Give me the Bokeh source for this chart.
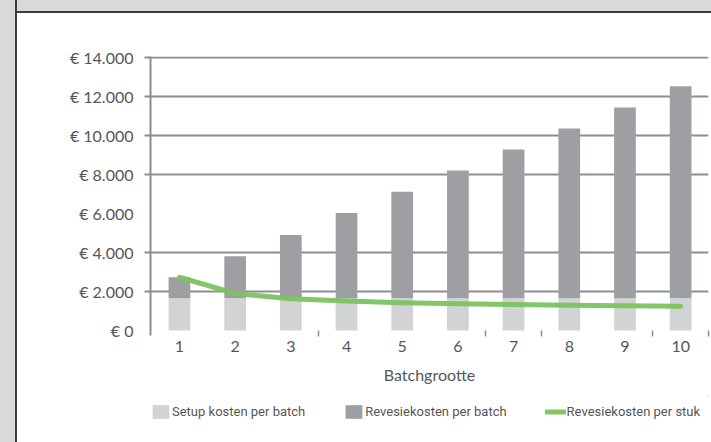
from bokeh.plotting import figure
from bokeh.models import Range1d, FixedTicker, Legend, LegendItem, ColumnDataSource
from bokeh.layouts import column
from bokeh.embed import file_html
from bokeh.resources import INLINE

# ---- data ----
batch = [1, 2, 3, 4, 5, 6, 7, 8, 9, 10]
setup_per_batch = [1650, 1650, 1650, 1650, 1650, 1650, 1650, 1650, 1650, 1650]
revisie_per_batch = [1080, 2160, 3250, 4380, 5460, 6550, 7630, 8710, 9790, 10870]
revisie_per_stuk = [2730, 1900, 1630, 1510, 1420, 1370, 1330, 1300, 1270, 1250]
y_ticks = [0, 2000, 4000, 6000, 8000, 10000, 12000, 14000]
y_tick_labels = ["€ 0", "€ 2.000", "€ 4.000", "€ 6.000", "€ 8.000", "€ 10.000", "€ 12.000", "€ 14.000"]
y_grid = [2000, 4000, 8000, 10000, 12000, 14000]
x_minor = [3.5, 6.5, 7.5, 9.5, 10.5]
x_label = "Batchgrootte"
legend_labels = ["Setup kosten per batch", "Revesiekosten per batch", "Revesiekosten per stuk"]

LIGHT = "#d1d3d4"
DARK = "#9d9fa2"
GREEN = "#7cc35f"
GRID = "#8c8d8f"
TEXT = "#555658"
BG = "#d8d9da"
EDGE = "#3b3b3b"
FONT = "Lato"
LEG_FONT = "Roboto"

total = [s + r for s, r in zip(setup_per_batch, revisie_per_batch)]
src = ColumnDataSource(dict(x=batch, setup=setup_per_batch, total=total, stuk=revisie_per_stuk,
                            zero=[0] * len(batch)))

p = figure(width=694, height=382, output_backend="svg", toolbar_location=None,
           x_range=Range1d(0.48, 10.5), y_range=Range1d(-256, 14051),
           min_border_left=133, min_border_right=3, min_border_top=43, min_border_bottom=60)
p.margin = (13, 0, 0, 17)
p.outline_line_color = None
p.background_fill_color = "white"
p.border_fill_color = "white"

bar_kw = dict(width=0.39, line_color=None)
r_setup = p.vbar(x="x", bottom="zero", top="setup", source=src, fill_color=LIGHT, **bar_kw)
r_rev = p.vbar(x="x", bottom="setup", top="total", source=src, fill_color=DARK, **bar_kw)
line_kw = dict(line_color=GREEN, line_width=5, line_join="round", line_cap="round", line_alpha=0.95)
r_line = p.line(x="x", y="stuk", source=src, **line_kw)

# y axis
ya = p.yaxis[0]
ya.ticker = FixedTicker(ticks=y_ticks, minor_ticks=y_grid)
ya.major_label_overrides = {v: t for v, t in zip(y_ticks, y_tick_labels)}
ya.major_tick_line_color = None
ya.major_tick_out = 6
ya.major_tick_in = 0
ya.minor_tick_line_color = GRID
ya.minor_tick_line_width = 2
ya.minor_tick_out = 6
ya.minor_tick_in = 0
ya.major_label_standoff = 11
ya.axis_line_color = GRID
ya.axis_line_width = 2
ya.major_label_text_font = FONT
ya.major_label_text_font_size = "16px"
ya.major_label_text_color = TEXT

# x axis
xa = p.xaxis[0]
xa.ticker = FixedTicker(ticks=batch, minor_ticks=x_minor)
xa.axis_line_color = None
xa.major_tick_line_color = None
xa.major_tick_out = 0
xa.major_tick_in = 0
xa.minor_tick_line_color = GRID
xa.minor_tick_line_width = 1.5
xa.minor_tick_in = 5
xa.minor_tick_out = 1
xa.major_label_standoff = 4
xa.major_label_text_font = FONT
xa.major_label_text_font_size = "16px"
xa.major_label_text_color = TEXT
xa.axis_label = x_label
xa.axis_label_text_font = FONT
xa.axis_label_text_font_size = "16px"
xa.axis_label_text_font_style = "normal"
xa.axis_label_text_color = TEXT
xa.axis_label_standoff = 10

p.xgrid.grid_line_color = None
p.ygrid.ticker = FixedTicker(ticks=y_grid)
p.ygrid.grid_line_color = GRID
p.ygrid.grid_line_width = 2

# ---- legend strip (separate figure below the chart; its ranges keep the data out of view) ----
pl = figure(width=694, height=47, output_backend="svg", toolbar_location=None,
            x_axis_type=None, y_axis_type=None, x_range=Range1d(-2, -1), y_range=Range1d(-2, -1),
            min_border_left=133, min_border_right=3, min_border_top=0, min_border_bottom=0)
pl.margin = (0, 0, 0, 17)
pl.outline_line_color = None
pl.background_fill_color = "white"
pl.border_fill_color = "white"
pl.grid.visible = False
l_setup = pl.vbar(x="x", bottom="zero", top="setup", source=src, fill_color=LIGHT, **bar_kw)
l_rev = pl.vbar(x="x", bottom="setup", top="total", source=src, fill_color=DARK, **bar_kw)
l_line = pl.line(x="x", y="stuk", source=src, **line_kw)

legend = Legend(items=[
    LegendItem(label=legend_labels[0], renderers=[l_setup]),
    LegendItem(label=legend_labels[1], renderers=[l_rev]),
    LegendItem(label=legend_labels[2], renderers=[l_line]),
], orientation="horizontal", location=(0, 22))
legend.glyph_width = 21
legend.glyph_height = 17
legend.label_standoff = 1
legend.spacing = 38
legend.padding = 0
legend.margin = 0
legend.border_line_color = None
legend.background_fill_alpha = 0
legend.label_text_font = LEG_FONT
legend.label_text_font_size = "13px"
legend.label_text_color = TEXT
pl.add_layout(legend)

panel_bg = (f"linear-gradient(to right, {BG} 0px, {BG} 15px, {EDGE} 15px, {EDGE} 17px, transparent 17px), "
            f"linear-gradient(to bottom, {BG} 0px, {BG} 11px, {EDGE} 11px, {EDGE} 13px, white 13px)")
layout = column(p, pl, width=711, height=442, spacing=0, styles={"background": panel_bg})

open("out.html", "w").write(file_html(layout, INLINE))
